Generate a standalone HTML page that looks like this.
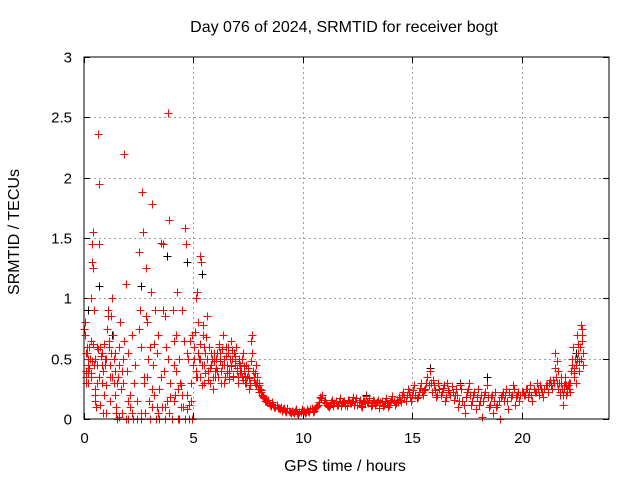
<!DOCTYPE html>
<html><head><meta charset="utf-8"><style>
body{margin:0;background:#fff}
svg text{font-family:"Liberation Sans",sans-serif;font-size:15px;fill:#000}
</style></head><body>
<svg id="chart" width="640" height="480" viewBox="0 0 640 480" xmlns="http://www.w3.org/2000/svg">
<rect width="640" height="480" fill="#fff"/>
<text x="344" y="32" text-anchor="middle" style="font-size:16px">Day 076 of 2024, SRMTID for receiver bogt</text>
<g id="grid"></g><g id="ticks"></g><g id="marks"></g>
<rect x="84" y="57" width="525" height="362" fill="none" stroke="#000" stroke-width="1"/>
<text x="345" y="471" text-anchor="middle" style="font-size:16px">GPS time / hours</text>
<text transform="translate(19,232) rotate(-90)" text-anchor="middle" style="font-size:16px">SRMTID / TECUs</text>
</svg>
<script>
const xTicks=[0,5,10,15,20];
const yTicks=[0,0.5,1,1.5,2,2.5,3];
const yTickLabels=["0","0.5","1","1.5","2","2.5","3"];
const hours=[0.05,0.05,0.1,0.1,0.15,0.2,0.2,0.25,0.3,0.3,0.35,0.35,0.4,0.4,0.45,0.5,0.5,0.55,0.6,0.65,0.7,0.7,0.75,0.8,0.85,0.9,0.95,1.0,1.05,1.1,1.15,1.2,1.25,1.3,1.35,1.4,1.45,1.5,1.55,1.6,1.65,1.7,1.75,1.8,1.85,1.9,1.95,2.0,2.1,2.2,2.3,2.4,2.5,2.55,2.6,2.65,2.7,2.75,2.8,2.85,2.9,2.95,3.0,3.05,3.1,3.15,3.2,3.25,3.3,3.35,3.4,3.45,3.5,3.55,3.6,3.65,3.7,3.75,3.8,3.85,3.9,3.95,4.0,4.05,4.1,4.15,4.2,4.25,4.3,4.35,4.4,4.45,4.5,4.55,4.6,4.65,4.7,4.75,4.8,4.85,4.9,4.95,5.0,5.05,5.1,5.15,5.2,5.25,5.3,5.35,5.4,5.45,5.5,5.55,5.6,5.65,5.7,5.75,5.8,5.85,5.9,5.95,6.0,
0.1,0.2,0.3,0.45,0.6,0.8,1.0,1.2,1.4,1.6,1.8,2.0,2.2,2.6,2.9,3.1,3.4,3.7,3.9,4.1,4.3,4.5,4.7,4.9,5.1,5.3,5.5,
6.05,6.1,6.15,6.2,6.25,6.3,6.35,6.4,6.45,6.5,6.55,6.6,6.65,6.7,6.75,6.8,6.85,6.9,6.95,7.0,7.05,7.1,7.15,7.2,7.25,7.3,7.35,7.4,7.45,7.5,7.55,7.6,7.65,7.7,7.75,7.8,7.85,7.9,7.95,
8.0,8.05,8.1,8.15,8.2,8.3,8.4,8.5,8.6,8.7,8.8,8.9,9.0,9.1,9.2,9.3,9.4,9.5,9.6,9.7,9.8,9.9,10.0,
10.1,10.2,10.3,10.4,10.5,10.6,10.7,10.8,10.9,11.0,11.1,11.2,
11.3,11.4,11.5,11.6,11.7,11.8,11.9,12.0,12.1,12.2,12.3,12.4,12.5,12.6,12.7,12.8,12.9,13.0,13.1,13.2,13.3,13.4,13.5,13.6,13.7,13.8,13.9,14.0,14.1,14.2,14.3,14.4,14.5,
14.6,14.7,14.8,14.9,15.0,15.1,15.2,15.3,15.4,15.5,15.6,15.7,15.8,15.85,15.9,16.0,16.1,16.2,16.3,16.4,16.5,16.6,16.7,16.8,16.9,17.0,
17.1,17.2,17.3,17.4,17.5,17.6,17.7,17.8,17.9,18.0,18.1,18.2,18.3,18.4,18.5,18.6,18.7,18.8,18.9,19.0,19.1,19.2,19.3,19.4,19.5,19.6,19.7,19.8,19.9,20.0,
20.1,20.2,20.3,20.4,20.5,20.6,20.7,20.8,20.9,21.0,21.1,21.2,21.3,21.4,21.5,
21.55,21.6,21.65,21.7,21.75,21.8,21.85,21.9,21.95,22.0,22.05,22.1,22.15,22.2,
22.3,22.35,22.4,22.45,22.5,22.55,22.6,22.65,22.7,22.75,22.8,22.8,22.75,
0.02,0.08,0.12,0.18,0.22,0.28,0.32,0.38,0.42,0.48,0.52,0.58,0.62,0.68,0.72,0.78,0.82,0.88,0.92,0.98,1.02,1.08,1.12,1.18,1.22,1.28,1.32,1.38,1.42,1.48,
1.52,1.62,1.72,1.82,1.92,2.02,2.12,2.22,2.32,2.42,2.52,2.62,2.72,2.82,2.92,3.02,3.12,3.22,3.32,3.42,3.52,3.62,3.72,3.82,3.92,4.02,4.12,4.22,4.32,4.42,4.52,4.62,4.72,4.82,4.92,
5.02,5.08,5.12,5.18,5.22,5.28,5.32,5.38,5.42,5.48,5.52,5.58,5.62,5.68,5.72,5.78,5.82,5.88,5.92,5.98,
6.02,6.08,6.12,6.18,6.22,6.28,6.32,6.38,6.42,6.48,6.52,6.58,6.62,6.68,6.72,6.78,6.82,6.88,6.92,6.98,7.02,7.08,7.12,7.18,7.22,7.28,7.32,7.38,7.42,7.48,7.52,7.58,7.62,7.68,7.72,7.78,7.82,7.88,7.92,7.98,
8.02,8.08,8.12,8.18,8.22,8.28,8.35,8.45,8.55,8.65,8.75,8.85,8.95,9.05,9.15,9.25,9.35,9.45,9.55,9.65,9.75,9.85,9.95,10.05,10.15,10.25,10.35,10.45,10.55,10.65,10.75,10.85,10.95,11.05,11.15,11.25,
11.35,11.45,11.55,11.65,11.75,11.85,11.95,12.05,12.15,12.25,12.35,12.45,12.55,12.65,12.75,12.85,12.95,13.05,13.15,13.25,13.35,13.45,13.55,13.65,13.75,13.85,13.95,14.05,14.15,14.25,14.35,14.45,14.55,
14.65,14.75,14.85,14.95,15.05,15.15,15.25,15.35,15.45,15.55,15.65,15.75,15.95,16.05,16.15,16.25,16.35,16.45,16.55,16.65,16.75,16.85,16.95,
17.05,17.15,17.25,17.35,17.45,17.55,17.65,17.75,17.85,17.95,18.05,18.15,18.25,18.35,18.45,18.55,18.65,18.75,18.85,18.95,19.05,19.15,19.25,19.35,19.45,19.55,19.65,19.75,19.85,19.95,
20.05,20.15,20.25,20.35,20.45,20.55,20.65,20.75,20.85,20.95,21.05,21.15,21.25,21.35,21.45,21.52,21.58,21.62,21.68,21.72,21.78,21.82,21.88,21.92,21.98,22.02,22.08,22.12,22.18,22.22,22.28,22.32,22.38,22.42,22.48,22.52,22.58,22.62,22.68,22.72,22.78];
const srmtid=[0.8,0.7,0.4,0.35,0.55,0.3,0.45,0.6,0.65,1.0,1.3,1.45,1.55,1.25,0.9,0.5,0.2,0.1,0.3,2.36,1.95,1.45,0.6,0.55,0.4,0.2,0.5,0.05,0.75,0.9,0.65,0.45,0.85,1.0,0.3,0.55,0.1,0.0,0.35,0.6,0.8,0.25,0.05,0.5,2.2,1.12,0.4,0.0,0.1,0.7,0.3,0.0,1.38,0.9,0.6,1.88,1.55,0.35,0.05,1.25,0.8,0.15,0.6,1.05,1.78,0.45,0.2,0.9,0.0,0.55,0.7,0.25,1.46,0.1,1.45,0.4,0.85,0.6,0.15,2.54,1.65,0.3,0.0,0.9,0.45,0.2,0.7,1.05,0.0,0.5,0.3,0.1,0.9,0.65,1.58,1.45,0.2,0.5,0.0,0.65,0.3,0.7,0.45,0.6,1.0,0.35,0.8,0.5,1.35,1.3,0.45,0.7,0.3,0.55,0.85,0.4,0.6,0.3,0.45,0.5,0.25,0.55,0.35,
0.55,0.5,0.38,0.45,0.6,0.45,0.5,0.35,0.4,0.45,0.3,0.15,0.05,0.05,0.35,0.1,0.05,0.1,0.05,0.15,0.25,0.2,0.08,0.15,0.35,0.5,0.6,
0.5,0.4,0.6,0.55,0.3,0.45,0.7,0.5,0.35,0.6,0.45,0.55,0.4,0.65,0.5,0.35,0.55,0.45,0.6,0.4,0.3,0.5,0.45,0.35,0.55,0.4,0.3,0.45,0.35,0.4,0.25,0.3,0.65,0.55,0.35,0.3,0.45,0.35,0.25,
0.3,0.25,0.22,0.2,0.18,0.15,0.16,0.12,0.14,0.1,0.12,0.09,0.1,0.08,0.07,0.09,0.06,0.07,0.05,0.08,0.04,0.06,0.07,
0.05,0.08,0.06,0.09,0.07,0.1,0.12,0.18,0.2,0.16,0.12,0.1,
0.14,0.11,0.15,0.12,0.17,0.13,0.15,0.11,0.16,0.13,0.18,0.14,0.12,0.16,0.1,0.15,0.19,0.13,0.11,0.16,0.12,0.14,0.09,0.15,0.12,0.17,0.1,0.14,0.19,0.12,0.16,0.18,0.14,
0.22,0.15,0.25,0.18,0.2,0.28,0.17,0.22,0.3,0.2,0.25,0.35,0.4,0.3,0.22,0.28,0.18,0.3,0.2,0.26,0.15,0.3,0.22,0.27,0.16,0.25,
0.1,0.28,0.15,0.05,0.22,0.3,0.12,0.2,0.08,0.25,0.15,0.02,0.2,0.28,0.1,0.18,0.05,0.22,0.12,0.0,0.2,0.15,0.25,0.08,0.18,0.28,0.12,0.2,0.15,0.22,
0.2,0.25,0.18,0.28,0.15,0.22,0.3,0.2,0.25,0.18,0.28,0.22,0.32,0.25,0.3,
0.55,0.48,0.4,0.3,0.2,0.35,0.25,0.12,0.28,0.35,0.2,0.25,0.3,0.22,
0.45,0.6,0.35,0.5,0.3,0.7,0.55,0.4,0.78,0.65,0.45,0.55,0.75,
0.75,0.3,0.6,0.38,0.42,0.5,0.35,0.48,0.62,0.25,0.15,0.45,0.58,0.35,0.12,0.52,0.3,0.05,0.62,0.45,0.28,0.85,0.6,0.15,0.55,0.35,0.7,0.5,0.2,0.05,
0.3,0.02,0.4,0.65,0.0,0.55,0.2,0.0,0.45,0.15,0.75,0.0,0.3,0.85,0.5,0.0,0.25,0.62,0.1,0.0,0.35,0.9,0.0,0.5,0.18,0.0,0.65,0.4,0.0,0.28,0.1,0.0,0.55,0.12,0.0,
0.5,0.72,0.4,1.05,0.55,0.35,0.62,0.28,0.78,0.45,0.38,0.68,0.5,0.32,0.6,0.42,0.55,0.35,0.48,0.4,
0.42,0.55,0.35,0.62,0.48,0.4,0.58,0.3,0.45,0.52,0.38,0.6,0.33,0.5,0.44,0.57,0.36,0.48,0.52,0.42,0.35,0.46,0.38,0.4,0.5,0.32,0.44,0.36,0.3,0.42,0.34,0.28,0.48,0.7,0.4,0.32,0.38,0.28,0.3,0.22,
0.28,0.24,0.2,0.19,0.17,0.15,0.14,0.13,0.11,0.12,0.1,0.09,0.08,0.07,0.09,0.06,0.07,0.05,0.06,0.07,0.05,0.06,0.08,0.07,0.06,0.07,0.08,0.06,0.09,0.11,0.14,0.17,0.14,0.13,0.11,0.12,
0.16,0.13,0.12,0.15,0.11,0.14,0.12,0.16,0.13,0.15,0.12,0.17,0.14,0.11,0.15,0.13,0.14,0.17,0.12,0.15,0.13,0.16,0.14,0.11,0.15,0.13,0.12,0.16,0.15,0.13,0.14,0.16,0.2,
0.18,0.2,0.22,0.15,0.24,0.2,0.18,0.26,0.22,0.24,0.3,0.28,0.32,0.24,0.2,0.25,0.22,0.28,0.18,0.24,0.2,0.22,0.2,
0.2,0.15,0.25,0.12,0.18,0.25,0.2,0.15,0.22,0.18,0.12,0.2,0.15,0.22,0.18,0.12,0.2,0.15,0.1,0.15,0.18,0.22,0.2,0.15,0.22,0.2,0.25,0.18,0.22,0.2,
0.22,0.2,0.25,0.22,0.2,0.25,0.22,0.25,0.28,0.22,0.25,0.28,0.3,0.28,0.32,0.42,0.35,0.3,0.25,0.3,0.22,0.3,0.2,0.25,0.3,0.28,0.22,0.28,0.25,0.3,0.4,0.5,0.42,0.38,0.45,0.5,0.62,0.48,0.6,0.5,0.7];
const blackHours=[0.2,0.7,1.3,2.6,3.8,4.7,5.4,12.9,15.8,17.2,18.4,22.5];
const blackSrmtid=[0.9,1.1,0.7,1.1,1.35,1.3,1.2,0.2,0.42,0.3,0.35,0.55];
const X0=84,X1=609,Y0=419,Y1=57,XMAX=24,YMAX=3;
const sx=h=>X0+(X1-X0)*h/XMAX, sy=v=>Y0-(Y0-Y1)*v/YMAX;
const NS="http://www.w3.org/2000/svg";
const grid=document.getElementById('grid'),ticks=document.getElementById('ticks'),marks=document.getElementById('marks');
function ln(p,x1,y1,x2,y2,st,da){const l=document.createElementNS(NS,'line');l.setAttribute('x1',x1);l.setAttribute('y1',y1);l.setAttribute('x2',x2);l.setAttribute('y2',y2);l.setAttribute('stroke',st);if(da)l.setAttribute('stroke-dasharray',da);p.appendChild(l);return l;}
xTicks.forEach(t=>{const x=Math.round(sx(t))+0.5;
 if(t>0){const g=ln(grid,x,Y1,x,Y0,'#a0a0a0','2,3');
 
 }
 ln(ticks,x,Y0,x,Y0-6,'#000');ln(ticks,x,Y1,x,Y1+6,'#000');
 const tx=document.createElementNS(NS,'text');tx.setAttribute('x',x);tx.setAttribute('y',443);tx.setAttribute('text-anchor','middle');tx.textContent=t;
 
 
 ticks.appendChild(tx);});
yTicks.forEach((t,i)=>{const y=Math.round(sy(t))+0.5;
 if(t>0&&t<YMAX){const g=ln(grid,X0,y,X1,y,'#a0a0a0','2,3');
 
 }
 ln(ticks,X0,y,X0+6,y,'#000');ln(ticks,X1,y,X1-6,y,'#000');
 const tx=document.createElementNS(NS,'text');tx.setAttribute('x',72);tx.setAttribute('y',y+5);tx.setAttribute('text-anchor','end');tx.textContent=yTickLabels[i];
 
 
 ticks.appendChild(tx);});
function plus(h,v,c,name){const x=Math.round(sx(h))+0.5,y=Math.round(sy(v))+0.5;
 const p=document.createElementNS(NS,'path');p.setAttribute('d',`M${x-4} ${y}H${x+4}M${x} ${y-4}V${y+4}`);p.setAttribute('stroke',c);p.setAttribute('fill','none');
 
 
 marks.appendChild(p);}
blackHours.forEach((h,i)=>plus(h,blackSrmtid[i],'#000','black-point'));
hours.forEach((h,i)=>plus(h,srmtid[i],'#ff0000','srmtid-point'));
</script>
</body></html>
